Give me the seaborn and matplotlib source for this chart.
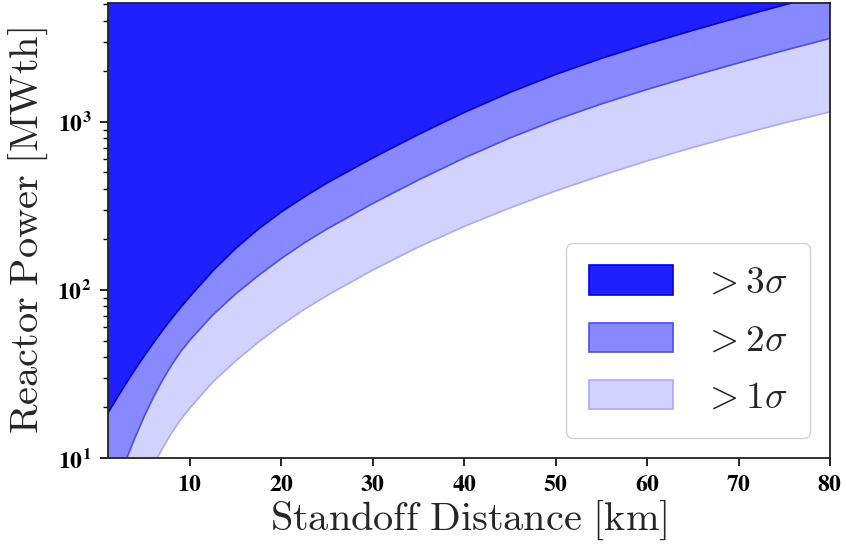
import numpy as np
import pandas as pd
import matplotlib
matplotlib.use("Agg")
import matplotlib.pyplot as plt
import seaborn as sns
from matplotlib.patches import Patch
from matplotlib.ticker import FuncFormatter, LogLocator, FixedLocator, NullLocator

# ---- data (distance in km, power in MWth) ----
d_3sig = [1.04, 2, 3, 4, 5, 6, 7, 8, 9, 10, 12.5, 15, 17.5, 20, 22.5, 25, 30, 35,
          40, 45, 50, 55, 60, 65, 70, 75, 80]
p_3sig = [18.53, 22.64, 27.69, 33.63, 40.47, 48.36, 57.40, 67.58, 78.88, 91.47,
          129.8, 176.6, 230.7, 291.3, 357.8, 433.4, 610.5, 842.5, 1139, 1498,
          1917, 2388, 2913, 3504, 4188, 4970, 5860]

d_2sig = [1.04, 2, 3.1, 4, 5, 6, 7, 8, 9, 10, 12.5, 15, 17.5, 20, 22.5, 25, 30, 35,
          40, 45, 50, 55, 60, 65, 70, 75, 80]
p_2sig = [4.836, 6.907, 10.0, 13.24, 17.69, 22.98, 29.05, 35.83, 43.04, 50.33,
          70.99, 94.67, 122.0, 154.0, 190.5, 230.7, 327.3, 451.6, 610.5, 803.1,
          1028, 1280, 1561, 1879, 2245, 2664, 3141]

d_1sig = [1.04, 3, 4, 5, 6, 7, 8, 9, 10, 12.5, 15, 17.5, 20, 22.5, 25, 30, 35,
          40, 45, 50, 55, 60, 65, 70, 75, 80]
p_1sig = [1.905, 3.831, 5.216, 6.964, 9.047, 11.44, 14.11, 16.95, 19.85, 28.34,
          37.79, 49.04, 61.90, 76.54, 92.75, 131.5, 180.3, 238.8, 307.7, 388.4,
          480.3, 586.0, 705.0, 836.8, 986.3, 1147]

labels = [r"$>3\sigma$", r"$>2\sigma$", r"$>1\sigma$"]
x_ticks = [10, 20, 30, 40, 50, 60, 70, 80]

# ---- style ----
sns.set_theme(style="ticks")
plt.rcParams["font.family"] = ["Liberation Serif", "DejaVu Serif"]
plt.rcParams["mathtext.fontset"] = "stix"

c_dark, c_mid, c_light = "#2020ff", "#8888ff", "#d2d2ff"
e_dark, e_mid, e_light = "#0000e6", "#4a4aff", "#a8a8ff"

fig = plt.figure(figsize=(8.46, 5.45), dpi=100)
ax = fig.add_axes([108 / 846, 87 / 545, 722 / 846, 455 / 545])

top = 1e6
ax.fill_between(d_1sig, p_1sig, top, color=c_light, lw=0)
ax.fill_between(d_2sig, p_2sig, top, color=c_mid, lw=0)
ax.fill_between(d_3sig, p_3sig, top, color=c_dark, lw=0)

for d, p, c in [(d_1sig, p_1sig, e_light), (d_2sig, p_2sig, e_mid), (d_3sig, p_3sig, e_dark)]:
    df = pd.DataFrame({"d": d, "p": p})
    sns.lineplot(data=df, x="d", y="p", color=c, lw=1.2, ax=ax, legend=False)

ax.set_yscale("log")
ax.set_xlim(1.04, 80)
ax.set_ylim(10, 5100)

ax.xaxis.set_major_locator(FixedLocator(x_ticks))
ax.xaxis.set_minor_locator(NullLocator())
ax.xaxis.set_major_formatter(FuncFormatter(lambda v, pos: r"$\mathbf{%d}$" % v))
ax.yaxis.set_major_locator(LogLocator(base=10))
ax.yaxis.set_minor_locator(LogLocator(base=10, subs=np.arange(2, 10)))
ax.yaxis.set_major_formatter(FuncFormatter(lambda v, pos: r"$\mathbf{10^{%d}}$" % round(np.log10(v))))
ax.yaxis.set_minor_formatter(FuncFormatter(lambda v, pos: ""))

ax.tick_params(axis="both", which="major", direction="out", length=6, width=1.2,
               labelsize=17, colors="black", pad=6)
ax.tick_params(axis="y", which="minor", direction="out", length=3.5, width=1.0, colors="black")
for s in ax.spines.values():
    s.set_color("#222222")
    s.set_linewidth(1.3)

ax.set_xlabel(r"$\mathrm{Standoff\ Distance\ [km]}$", fontsize=29, math_fontfamily="cm",
              labelpad=2)
ax.set_ylabel(r"$\mathrm{Reactor\ Power\ [MWth]}$", fontsize=29, math_fontfamily="cm",
              labelpad=5)

handles = [Patch(facecolor=c_dark, edgecolor=e_dark, lw=1.2),
           Patch(facecolor=c_mid, edgecolor=e_mid, lw=1.2),
           Patch(facecolor=c_light, edgecolor=e_light, lw=1.2)]
leg = ax.legend(handles, labels, loc="lower right", fontsize=27, handlelength=2.25,
                handleheight=0.82, handletextpad=0.8, labelspacing=0.58,
                borderpad=0.6, borderaxespad=0.53, framealpha=1.0,
                edgecolor="#d0d0d0", fancybox=True)
for t in leg.get_texts():
    t.set_math_fontfamily("cm")

fig.savefig("out.png", dpi=100)
